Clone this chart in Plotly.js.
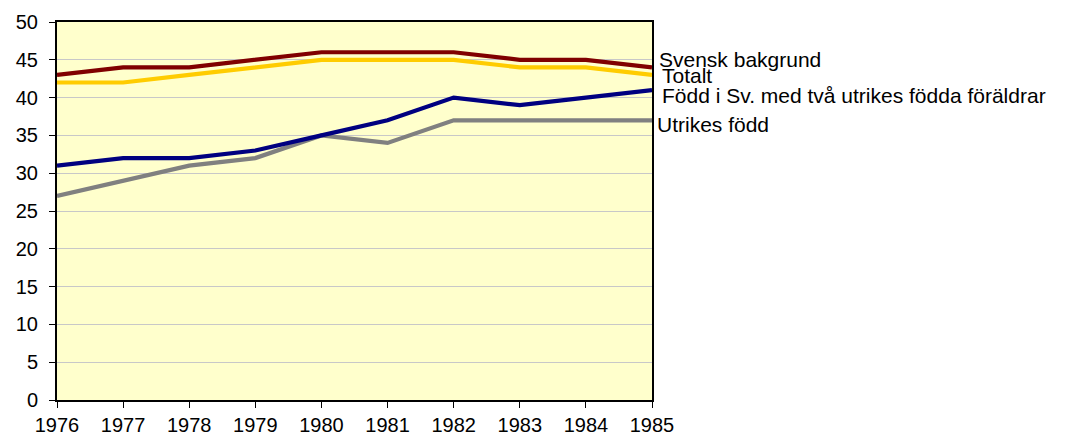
<!DOCTYPE html>
<html><head><meta charset="utf-8">
<script src="https://cdn.plot.ly/plotly-3.0.1.min.js"></script>
<style>html,body{margin:0;padding:0;background:#fff}#c{width:1069px;height:435px}</style>
</head><body><div id="c"></div>
<script>
const years = [1976,1977,1978,1979,1980,1981,1982,1983,1984,1985];
const svenskBakgrund = [43,44,44,45,46,46,46,45,45,44];
const totalt = [42,42,43,44,45,45,45,44,44,43];
const foddISv = [31,32,32,33,35,37,40,39,40,41];
const utrikesFodd = [27,29,31,32,35,34,37,37,37,37];
const names = ["Svensk bakgrund","Totalt","Född i Sv. med två utrikes födda föräldrar","Utrikes född"];
const series = [svenskBakgrund, totalt, foddISv, utrikesFodd];
const colors = ["#800000","#FFCC00","#000080","#808080"];
const yshifts = [7.5,-1,-5.5,-4.5];
const xshifts = [5,8,8,3];
const order = [3,2,1,0];
const traces = order.map(i => ({x: years, y: series[i], type:'scatter', mode:'lines', name: names[i],
  line:{color:colors[i], width:4.2}, hoverinfo:'skip'}));
const annotations = series.map((s,i)=>({xref:'paper', yref:'y', x:1, y:s[s.length-1], xanchor:'left', yanchor:'middle',
  xshift:xshifts[i], yshift:yshifts[i], text:names[i], showarrow:false, font:{family:'Liberation Sans, Arial', size:21, color:'#000'}}));
Plotly.newPlot('c', traces, {
  width:1069, height:435, showlegend:false,
  margin:{l:57, r:417, t:22, b:35},
  paper_bgcolor:'#fff', plot_bgcolor:'#FFFFCC',
  font:{family:'Liberation Sans, Arial', size:20, color:'#000'},
  xaxis:{range:[1976,1985], tickvals:years, ticktext:years.map(String), ticks:'outside', ticklen:6, tickcolor:'#000',
    tickfont:{size:20},
    showgrid:false, showline:true, linecolor:'#000', linewidth:2, mirror:true, zeroline:false, fixedrange:true},
  yaxis:{range:[0,50], dtick:5, ticks:'outside', ticklen:6, tickcolor:'#000', gridcolor:'#C8C8C8', gridwidth:1,
    tickfont:{size:20}, ticklabelstandoff:7,
    showline:true, linecolor:'#000', linewidth:2, mirror:true, zeroline:false, fixedrange:true},
  annotations: annotations
}, {staticPlot:true});
</script></body></html>
